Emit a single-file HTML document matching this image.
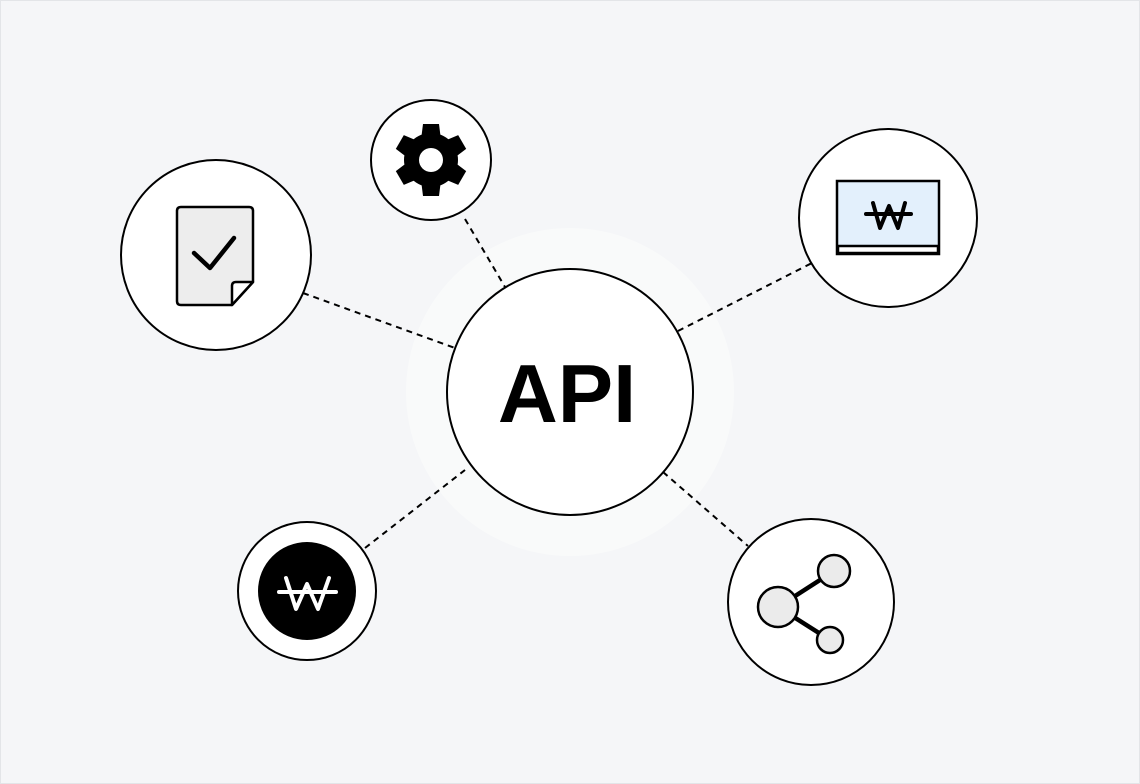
<!DOCTYPE html>
<html><head><meta charset="utf-8"><style>
html,body{margin:0;padding:0;background:#f5f6f8}
svg{display:block}
</style></head><body>
<svg width="1140" height="784" viewBox="0 0 1140 784" xmlns="http://www.w3.org/2000/svg">
<rect x="0.5" y="0.5" width="1139" height="783" fill="#f5f6f8" stroke="#e3e5e8"/>
<circle cx="570" cy="392" r="164" fill="#f9fafa"/>
<g stroke="#000" stroke-width="2" stroke-dasharray="6,5" fill="none">
<line x1="465" y1="219" x2="505" y2="287"/>
<line x1="303" y1="293" x2="455" y2="348"/>
<line x1="678" y1="331" x2="812" y2="263"/>
<line x1="365" y1="548" x2="465" y2="470"/>
<line x1="663" y1="472" x2="748" y2="546"/>
</g>
<g fill="#fff" stroke="#000" stroke-width="2">
<circle cx="570" cy="392" r="123"/>
<circle cx="431" cy="160" r="60"/>
<circle cx="216" cy="255" r="95"/>
<circle cx="888" cy="218" r="89"/>
<circle cx="307" cy="591" r="69"/>
<circle cx="811" cy="602" r="83"/>
</g>
<text x="567" y="422" text-anchor="middle" font-family="Liberation Sans, sans-serif" font-weight="bold" font-size="83">API</text>
<!-- gear -->
<g transform="translate(431,160)" fill="#000">
<circle r="27"/>
<path d="M-8,-36 H8 L10,-20 H-10 Z"/>
<path d="M-8,-36 H8 L10,-20 H-10 Z" transform="rotate(60)"/>
<path d="M-8,-36 H8 L10,-20 H-10 Z" transform="rotate(120)"/>
<path d="M-8,-36 H8 L10,-20 H-10 Z" transform="rotate(180)"/>
<path d="M-8,-36 H8 L10,-20 H-10 Z" transform="rotate(240)"/>
<path d="M-8,-36 H8 L10,-20 H-10 Z" transform="rotate(300)"/>
<circle r="12" fill="#fff"/>
</g>
<!-- document -->
<path d="M181 207 H249 Q253 207 253 211 V282 L232 305 H181 Q177 305 177 301 V211 Q177 207 181 207 Z" fill="#ededed" stroke="#000" stroke-width="2.5" stroke-linejoin="round"/>
<path d="M253 282 H236 Q232 282 232 286 V305 Z" fill="#fff" stroke="#000" stroke-width="2.5" stroke-linejoin="round"/>
<polyline points="194,253 210,268 234,238" fill="none" stroke="#000" stroke-width="4.5" stroke-linecap="round" stroke-linejoin="round"/>
<!-- monitor -->
<rect x="837" y="181" width="102" height="73" fill="#e3f0fc" stroke="#000" stroke-width="2.5"/>
<rect x="838" y="246" width="100" height="7" fill="#fff" stroke="#000" stroke-width="2.5"/>
<g fill="none" stroke="#000" stroke-width="4" stroke-linecap="round" stroke-linejoin="round">
<polyline points="873,203 880,228 889,206 898,228 905,203"/>
<line x1="866" y1="214" x2="911" y2="214"/>
</g>
<!-- won circle -->
<circle cx="307" cy="591" r="49" fill="#000"/>
<g fill="none" stroke="#fff" stroke-width="4" stroke-linecap="round" stroke-linejoin="round">
<polyline points="286,578 296,609 307,584 318,609 329,578"/>
<line x1="279" y1="592" x2="336" y2="592"/>
</g>
<!-- share -->
<g stroke="#000" stroke-width="4.5"><line x1="778" y1="607" x2="834" y2="571"/><line x1="778" y1="607" x2="830" y2="640"/></g>
<g fill="#ebebeb" stroke="#000" stroke-width="2.5">
<circle cx="778" cy="607" r="20"/>
<circle cx="834" cy="571" r="16"/>
<circle cx="830" cy="640" r="13"/>
</g>
</svg>
</body></html>
